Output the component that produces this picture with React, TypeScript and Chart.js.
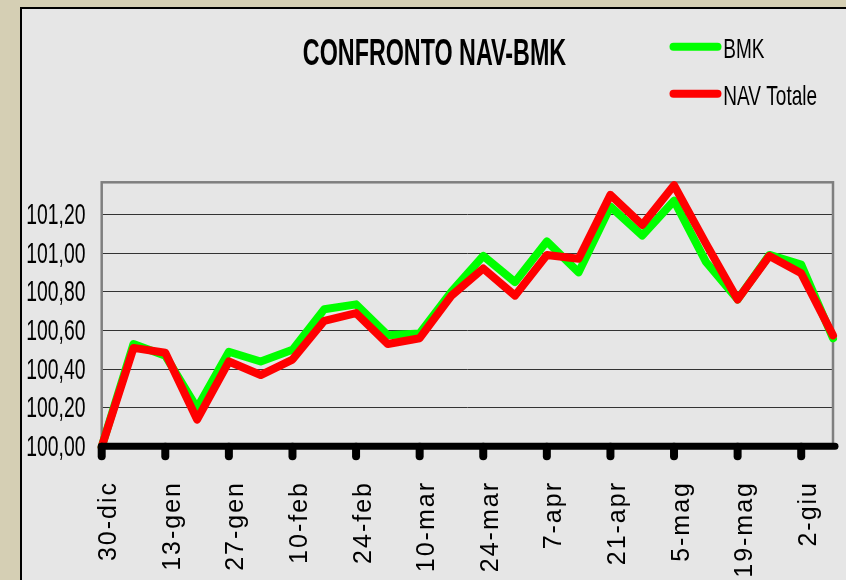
import React, { useEffect, useRef } from "react";
import { Chart, registerables } from "chart.js";

Chart.register(...registerables);

// ---- data ----
const categories = [
  "30-dic", "6-gen", "13-gen", "20-gen", "27-gen", "3-feb", "10-feb", "17-feb",
  "24-feb", "3-mar", "10-mar", "17-mar", "24-mar", "31-mar", "7-apr", "14-apr",
  "21-apr", "28-apr", "5-mag", "12-mag", "19-mag", "26-mag", "2-giu", "9-giu",
];

const xTickLabels = [
  "30-dic", "13-gen", "27-gen", "10-feb", "24-feb", "10-mar",
  "24-mar", "7-apr", "21-apr", "5-mag", "19-mag", "2-giu",
];

const bmkValues = [
  100.0, 100.53, 100.47, 100.2, 100.49, 100.44, 100.5, 100.71,
  100.735, 100.575, 100.585, 100.8, 100.985, 100.85, 101.06, 100.9,
  101.24, 101.09, 101.27, 100.955, 100.76, 100.99, 100.94, 100.56,
];

const navValues = [
  100.0, 100.51, 100.485, 100.14, 100.44, 100.37, 100.45, 100.65,
  100.69, 100.53, 100.56, 100.78, 100.92, 100.78, 100.99, 100.97,
  101.3, 101.145, 101.35, 101.05, 100.76, 100.985, 100.895, 100.575,
];

const yTickValues = [100.0, 100.2, 100.4, 100.6, 100.8, 101.0, 101.2];
const yTickLabels = ["100,00", "100,20", "100,40", "100,60", "100,80", "101,00", "101,20"];

const titleText = "CONFRONTO NAV-BMK";
const seriesNames = ["BMK", "NAV Totale"];
const seriesColors = ["#00ff00", "#ff0000"];

const FONT = '"Liberation Sans", Arial, sans-serif';

function squeezedText(
  ctx: CanvasRenderingContext2D,
  text: string,
  x: number,
  y: number,
  sx: number,
  font: string,
  align: CanvasTextAlign
) {
  ctx.save();
  ctx.translate(x, y);
  ctx.scale(sx, 1);
  ctx.font = font;
  ctx.fillStyle = "#000";
  ctx.textAlign = align;
  ctx.textBaseline = "alphabetic";
  ctx.fillText(text, 0, 0);
  ctx.restore();
}

const decorPlugin = {
  id: "decor",
  beforeDraw(chart: any) {
    const ctx: CanvasRenderingContext2D = chart.ctx;
    const w = chart.width;
    const h = chart.height;
    ctx.save();
    ctx.fillStyle = "#d5cfb4";
    ctx.fillRect(0, 0, w, h);
    ctx.fillStyle = "#e6e6e6";
    ctx.fillRect(21, 8, w - 21, h - 8);
    ctx.strokeStyle = "#000";
    ctx.lineWidth = 2;
    ctx.beginPath();
    ctx.moveTo(21, h);
    ctx.lineTo(21, 8);
    ctx.lineTo(w, 8);
    ctx.stroke();
    ctx.restore();
  },
  beforeDatasetsDraw(chart: any) {
    const ctx: CanvasRenderingContext2D = chart.ctx;
    const a = chart.chartArea;
    ctx.save();
    ctx.strokeStyle = "#7f7f7f";
    ctx.lineWidth = 2.5;
    ctx.strokeRect(a.left, a.top, a.right - a.left, a.bottom - a.top);
    ctx.restore();
  },
  afterDatasetsDraw(chart: any) {
    const ctx: CanvasRenderingContext2D = chart.ctx;
    const a = chart.chartArea;
    const xs = chart.scales.x;
    ctx.save();
    ctx.strokeStyle = "#000";
    ctx.lineCap = "round";
    ctx.lineWidth = 7;
    ctx.beginPath();
    ctx.moveTo(a.left, a.bottom - 0.5);
    ctx.lineTo(a.right + 2, a.bottom - 0.5);
    ctx.stroke();
    ctx.lineWidth = 8;
    xTickLabels.forEach((lab) => {
      const idx = categories.indexOf(lab);
      const px = xs.getPixelForValue(idx);
      ctx.beginPath();
      ctx.moveTo(px, a.bottom);
      ctx.lineTo(px, a.bottom + 9.5);
      ctx.stroke();
    });
    ctx.restore();
  },
  afterDraw(chart: any) {
    const ctx: CanvasRenderingContext2D = chart.ctx;
    const ys = chart.scales.y;
    const xs = chart.scales.x;
    // title
    squeezedText(ctx, titleText, 434.5, 65, 0.63, `bold 37px ${FONT}`, "center");
    // legend
    const legY = [46.7, 93.7];
    const legBase = [58.3, 105];
    seriesNames.forEach((name, i) => {
      ctx.save();
      ctx.strokeStyle = seriesColors[i];
      ctx.lineWidth = 8;
      ctx.lineCap = "round";
      ctx.beginPath();
      ctx.moveTo(673.5, legY[i]);
      ctx.lineTo(717.5, legY[i]);
      ctx.stroke();
      ctx.restore();
      squeezedText(ctx, name, 723.3, legBase[i], 0.68, `28px ${FONT}`, "left");
    });
    // y tick labels
    yTickValues.forEach((v, i) => {
      const py = ys.getPixelForValue(v);
      squeezedText(ctx, yTickLabels[i], 85.5, py + 9.5, 0.645, `30px ${FONT}`, "right");
    });
    // x tick labels
    xTickLabels.forEach((lab) => {
      const idx = categories.indexOf(lab);
      const px = xs.getPixelForValue(idx);
      ctx.save();
      ctx.translate(px + 14.5, 481);
      ctx.rotate(-Math.PI / 2);
      ctx.font = `25px ${FONT}`;
      (ctx as any).letterSpacing = "2px";
      ctx.fillStyle = "#000";
      ctx.textAlign = "right";
      ctx.textBaseline = "alphabetic";
      ctx.fillText(lab, 0, 0);
      ctx.restore();
    });
  },
};

export default function App() {
  const canvasRef = useRef<HTMLCanvasElement | null>(null);

  useEffect(() => {
    const canvas = canvasRef.current;
    if (!canvas) return;
    const chart = new Chart(canvas, {
      type: "line",
      data: {
        labels: categories,
        datasets: [
          {
            label: seriesNames[0],
            data: bmkValues,
            borderColor: seriesColors[0],
            backgroundColor: seriesColors[0],
            borderWidth: 8,
            pointRadius: 0,
            tension: 0,
            borderJoinStyle: "round",
            borderCapStyle: "round",
            clip: false,
            order: 1,
          },
          {
            label: seriesNames[1],
            data: navValues,
            borderColor: seriesColors[1],
            backgroundColor: seriesColors[1],
            borderWidth: 8,
            pointRadius: 0,
            tension: 0,
            borderJoinStyle: "round",
            borderCapStyle: "round",
            clip: false,
            order: 0,
          },
        ],
      },
      options: {
        responsive: false,
        animation: false,
        devicePixelRatio: 1,
        layout: { padding: { left: 0, top: 182.3, right: 13, bottom: 0 } },
        plugins: {
          legend: { display: false },
          title: { display: false },
          tooltip: { enabled: false },
        },
        scales: {
          x: {
            type: "category",
            offset: false,
            grid: { display: false, drawTicks: false },
            border: { display: false },
            ticks: { display: false },
            afterFit: (s: any) => {
              s.height = 580 - 446.7;
            },
          },
          y: {
            type: "linear",
            min: 100,
            max: 101.365,
            grid: { color: "#333333", lineWidth: 1, drawTicks: false },
            border: { display: false },
            ticks: { display: false },
            afterBuildTicks: (s: any) => {
              s.ticks = yTickValues.map((v) => ({ value: v }));
            },
            afterFit: (s: any) => {
              s.width = 101.7;
            },
          },
        },
      },
      plugins: [decorPlugin],
    });
    return () => chart.destroy();
  }, []);

  return (
    <div style={{ position: "fixed", left: 0, top: 0, width: 846, height: 580 }}>
      <canvas ref={canvasRef} width={846} height={580} style={{ display: "block" }} />
    </div>
  );
}
